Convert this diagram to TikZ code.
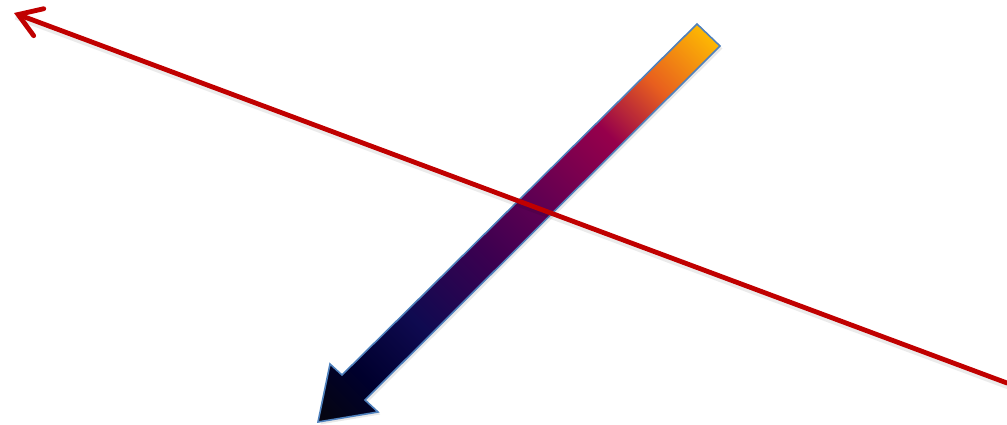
\documentclass[tikz,border=0pt]{standalone}
\usepackage{tikz}
\usetikzlibrary{arrows.meta,shadows}
\definecolor{lineRed}{RGB}{192,0,0}
\definecolor{edgeBlue}{RGB}{79,129,189}
\definecolor{gGold}{RGB}{255,192,0}
\definecolor{gOrange}{RGB}{232,95,30}
\definecolor{gCrimson}{RGB}{150,0,75}
\definecolor{gPlum}{RGB}{95,0,82}
\definecolor{gPurple}{RGB}{60,0,80}
\definecolor{gNavy}{RGB}{15,10,80}
\definecolor{gDeep}{RGB}{0,0,45}
\definecolor{gBlack}{RGB}{5,5,18}
\pgfdeclareverticalshading{arrowgrad}{100bp}{color(0bp)=(gBlack); color(15.6bp)=(gBlack); color(22.5bp)=(gDeep); color(32.1bp)=(gNavy); color(44.5bp)=(gPurple); color(53.4bp)=(gPlum); color(65.8bp)=(gCrimson); color(74.4bp)=(gOrange); color(84.4bp)=(gGold); color(100bp)=(gGold)}
\tikzset{
  bigarrow/.style={draw=edgeBlue, line width=0.04cm, line join=miter,
    shading=arrowgrad, shading angle=-45,
    drop shadow={opacity=0.18, shadow xshift=0.06cm, shadow yshift=-0.06cm}},
  redline/.style={draw=lineRed, line width=0.12cm, line cap=round,
    -{Straight Barb[length=0.55cm, width=0.72cm, line cap=round]}},
  redshadow/.style={draw=black, opacity=0.08, line width=0.18cm}
}
\begin{document}
\begin{tikzpicture}[x=0.025cm, y=-0.025cm]
  \useasboundingbox (0,0) rectangle (1007,424);
  % gradient arrow
  \coordinate (tailA) at (697,24);
  \coordinate (tailB) at (720,46);
  \coordinate (notchR) at (365,400);
  \coordinate (barbR) at (378,412);
  \coordinate (tip) at (318,422);
  \coordinate (barbL) at (330,364);
  \coordinate (notchL) at (342,375);
  \path[bigarrow] (tailA) -- (tailB) -- (notchR) -- (barbR) -- (tip)
    -- (barbL) -- (notchL) -- cycle;
  % red line
  \coordinate (lineStart) at (1007,383);
  \coordinate (lineEnd) at (14,13);
  \draw[redshadow] ([shift={(2,3)}]lineStart) -- ([shift={(2,3)}]lineEnd);
  \draw[redline] (lineStart) -- (lineEnd);
\end{tikzpicture}
\end{document}
